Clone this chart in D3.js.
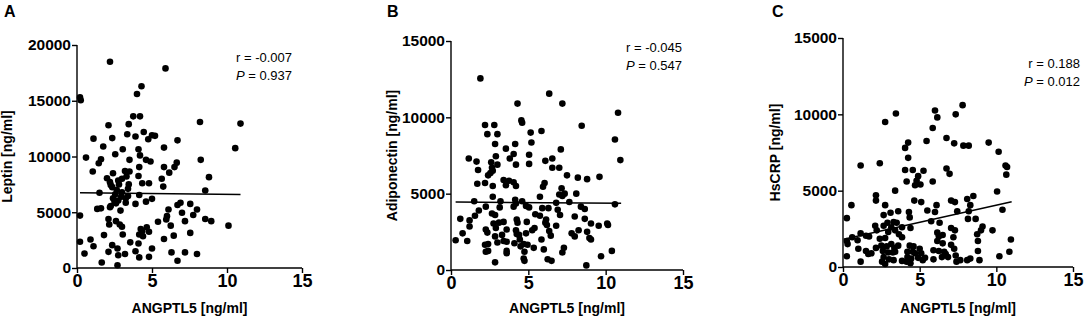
<!DOCTYPE html>
<html><head><meta charset="utf-8">
<script src="https://cdn.jsdelivr.net/npm/d3@7"></script>
<style>
html,body{margin:0;padding:0;background:#fff;}
svg{display:block;}
.tick text{font-family:"Liberation Sans",Arial,sans-serif;font-weight:bold;fill:#000;}
.xax .tick text{font-size:18px;}
.yax .tick text{font-size:15.5px;}
.title{font-family:"Liberation Sans",Arial,sans-serif;font-weight:bold;font-size:14px;fill:#000;}
.ann{font-family:"Liberation Sans",Arial,sans-serif;font-size:13px;fill:#000;}
.letter{font-family:"Liberation Sans",Arial,sans-serif;font-weight:bold;font-size:16px;fill:#000;}
</style></head>
<body>
<svg id="chart" width="1084" height="322"></svg>
<script>
// ---------- data ----------
const xTicks = [0, 5, 10, 15];
const yTicksA = [0, 5000, 10000, 15000, 20000];
const yTicksBC = [0, 5000, 10000, 15000];
const xTitle = "ANGPTL5 [ng/ml]";
const yTitles = ["Leptin [ng/ml]", "Adiponectin [ng/ml]", "HsCRP [ng/ml]"];
const letters = ["A", "B", "C"];
const rValues = ["r = -0.007", "r = -0.045", "r = 0.188"];
const pValues = ["0.937", "0.547", "0.012"];

// Panel A: ANGPTL5 vs Leptin
const xA = [2.2,5.9,4.3,4.0,0.2,0.25,3.75,4.2,2.1,3.45,8.2,10.9,4.45,1.1,2.35,3.35,3.9,4.75,5.0,5.2,6.7,1.75,3.05,4.1,5.8,10.55,
0.6,2.55,4.2,3.5,1.6,1.45,4.6,4.9,8.25,6.65,6.5,5.8,1.05,2.4,3.2,3.5,4.15,4.1,6.15,2.0,3.0,3.3,2.2,2.25,2.35,2.75,2.8,3.45,3.4,
4.35,4.8,5.65,5.75,8.8,1.5,2.65,2.55,3.0,2.95,3.25,3.4,4.15,8.55,2.4,2.5,2.25,2.75,2.6,3.25,4.6,5.0,3.9,1.35,1.6,2.2,2.9,6.7,6.9,
7.55,6.1,8.0,0.2,6.0,5.95,7.0,7.75,2.1,2.15,2.6,2.85,3.0,5.4,6.25,7.2,8.55,8.95,10.1,4.25,4.35,4.65,4.8,4.15,4.4,1.8,3.05,6.45,
7.55,5.8,0.2,0.9,1.1,2.35,3.55,4.1,5.0,2.7,0.5,2.1,3.2,2.75,3.9,4.15,4.8,6.3,7.2,8.0,1.65,2.7,6.7];
const yA = [18500,17900,16300,15600,15300,15050,13600,13600,12800,12900,13100,12950,12200,11600,11650,12000,11800,11550,11900,11850,11450,10900,10650,10650,10800,10750,
9900,10200,10100,9700,9750,9400,9700,9550,9700,9450,9050,9050,8650,8500,8700,8650,9050,8250,8550,8050,8000,8200,7700,7450,7250,7850,7500,7500,7100,
7600,7600,8000,7300,8150,6750,7000,6600,6800,6400,6250,6450,6550,6950,6250,5950,5550,6050,5800,5850,5950,6200,5750,5300,5350,5450,5150,5650,5850,
5750,5250,5250,4700,4650,4350,4950,4750,4400,3900,4200,3900,3700,4150,3800,4200,4400,4200,3800,3500,3300,3650,3250,3000,2850,2950,3000,2900,
3150,2600,2350,2550,1950,2050,2300,2200,1750,1750,1300,1450,1250,1150,1500,950,1000,1400,1400,1250,500,250,650];

// Panel B: ANGPTL5 vs Adiponectin
const xB = [1.9,6.35,4.3,7.2,10.8,4.55,4.6,2.2,2.8,8.45,2.35,3.0,5.15,5.85,2.85,4.15,5.2,10.6,3.55,7.1,1.15,4.05,2.9,3.8,5.05,6.1,6.55,10.95,
1.65,2.6,3.0,4.2,5.05,1.75,2.65,2.7,6.55,7.0,2.4,2.55,7.5,8.2,8.8,9.6,3.4,3.75,4.05,1.7,2.2,2.7,3.55,4.2,6.05,5.95,7.15,5.75,7.0,7.2,7.35,
8.1,2.7,1.5,3.2,4.15,4.2,4.6,6.8,7.65,10.6,2.25,1.8,2.65,2.85,3.15,4.05,4.85,5.05,5.9,6.3,6.9,7.05,8.4,8.65,1.55,5.45,5.75,6.15,8.0,0.6,
1.2,1.2,4.25,4.3,4.9,2.75,2.9,3.1,3.4,6.1,6.2,6.8,8.65,9.05,9.55,10.1,10.15,0.75,2.25,2.35,3.6,4.2,4.25,5.25,5.4,6.35,6.45,7.8,8.0,8.25,
8.8,8.95,9.05,0.3,1.05,2.85,3.0,3.3,3.4,3.6,4.4,4.45,4.85,5.85,4.1,4.5,4.7,4.95,2.2,2.4,2.25,2.4,3.6,3.6,4.75,5.35,6.0,7.3,7.2,10.4,9.7,
4.7,4.75,6.25,6.5,2.85,8.75];
const yB = [12550,11550,10900,10900,10300,9800,9650,9500,9500,9450,8900,8900,9000,9100,8250,8250,8350,8550,7950,7900,7300,7600,7450,7300,7550,7150,7300,7200,
7100,7050,6900,6900,6950,6550,6700,6500,6700,6700,6200,6350,6200,6050,5950,6100,5900,5850,5750,5650,5700,5500,5550,5500,5700,5450,5350,4800,4950,4850,5000,
5000,4800,4500,4500,4600,4350,4500,4400,4450,4300,4150,3900,3700,3600,4100,4150,4200,4100,4050,4050,3950,3600,4150,4000,3550,3650,3550,3300,3500,3350,
3250,2850,3300,3100,3150,3050,2750,3100,3150,3100,2950,2900,3350,3050,2900,3050,2950,2400,2650,2450,2650,2600,2350,2600,2750,2550,2250,2400,2200,2600,
2500,2100,2000,1950,1900,2200,1800,2300,1900,1850,2300,2000,2400,2000,1750,1550,1700,1650,1650,1700,1200,1250,1250,1100,1200,1450,1350,1450,1150,1250,900,
750,600,700,600,500,300];

// Panel C: ANGPTL5 vs HsCRP
const xC = [7.8,6.0,6.15,3.45,7.35,2.75,5.85,6.75,5.45,4.25,4.05,7.25,7.85,8.2,9.5,10.15,4.25,1.15,2.4,4.05,4.55,5.25,6.75,6.95,10.6,10.7,
4.9,4.8,5.05,4.7,4.15,5.85,10.65,3.4,2.15,2.15,4.65,5.1,0.55,2.75,7.05,7.3,8.1,8.5,8.3,6.1,10.05,5.5,6.0,4.3,3.6,3.1,2.65,10.4,7.45,8.2,
0.25,4.35,5.75,6.3,3.3,3.5,2.9,8.15,8.65,2.1,2.2,2.65,3.15,3.4,3.85,4.4,7.05,7.3,9.1,9.0,9.75,1.15,0.6,1.5,1.7,2.95,3.65,6.15,6.25,6.5,
8.75,0.25,0.3,0.95,2.4,2.75,3.85,6.15,6.5,7.2,8.8,10.95,2.5,2.85,3.15,3.35,2.15,3.6,4.35,4.6,5.0,5.9,7.05,7.25,1.0,1.5,1.65,1.85,2.6,2.95,
3.25,3.4,4.2,4.55,4.7,5.1,6.25,6.6,6.7,8.8,10.85,0.25,2.65,3.0,3.3,4.2,4.45,4.9,5.35,6.45,6.85,7.35,10.2,1.15,2.55,2.75,3.85,4.15,4.4,5.2,
5.9,7.4,7.65,8.1,8.3,8.9];
const yC = [10600,10250,9800,10050,10000,9500,9100,8450,8250,8150,7800,8100,7950,7950,8150,7550,7150,6650,6800,6350,6350,6300,6450,6100,6650,6550,
5950,5650,5400,5350,5600,5600,6050,5000,4700,4350,4350,4250,4050,4050,4350,4250,4450,4650,4050,4050,4950,3700,3600,3600,3650,3550,3400,3750,3650,3650,
3200,3250,3000,2900,2950,2900,2900,3150,3150,2700,2400,2700,2600,2400,2600,2550,2550,2400,2650,2400,2400,2200,1950,2050,2000,2300,2150,2250,2000,2100,
2150,1700,1500,1750,1850,1900,1950,1700,1550,1950,1700,1800,1400,1350,1500,1250,1250,1400,1400,1350,1200,1100,1450,1200,1200,1050,850,900,1050,950,
950,1000,1000,1000,900,900,1050,1000,850,1050,1000,700,650,500,450,650,550,600,600,650,650,750,700,350,350,200,400,350,250,450,
500,350,450,450,550,450];

// regression line end points [x, y]
const fitA = [[0.2, 6750], [10.9, 6600]];
const fitB = [[0.3, 4450], [11.0, 4380]];
const fitC = [[0.05, 1820], [11.0, 4280]];

// ---------- drawing ----------
const svg = d3.select("#chart");
const panels = [
  {xs: xA, ys: yA, fit: fitA, yTicks: yTicksA, yMax: 20000, xr: [77, 302], yr: [268, 45], titleX: 12, letterX: 4, annRight: 292, annY: 62},
  {xs: xB, ys: yB, fit: fitB, yTicks: yTicksBC, yMax: 15000, xr: [451, 683], yr: [270, 41], titleX: 397, letterX: 387, annRight: 682, annY: 52},
  {xs: xC, ys: yC, fit: fitC, yTicks: yTicksBC, yMax: 15000, xr: [843, 1073], yr: [267, 38], titleX: 780, letterX: 772, annRight: 1080, annY: 68}
];

panels.forEach((p, i) => {
  const x = d3.scaleLinear().domain([0, 15]).range(p.xr);
  const y = d3.scaleLinear().domain([0, p.yMax]).range(p.yr);
  const g = svg.append("g");

  const xAxis = g.append("g").attr("class", "xax").attr("transform", `translate(0,${p.yr[0]})`)
    .call(d3.axisBottom(x).tickValues(xTicks).tickSize(5).tickPadding(1).tickFormat(d3.format("d")));
  const yAxis = g.append("g").attr("class", "yax").attr("transform", `translate(${p.xr[0]},0)`)
    .call(d3.axisLeft(y).tickValues(p.yTicks).tickSize(5).tickPadding(1).tickFormat(d3.format("d")));
  [xAxis, yAxis].forEach(a => {
    a.select(".domain").attr("stroke", "#000").attr("stroke-width", 1.4);
    a.selectAll(".tick line").attr("stroke", "#000").attr("stroke-width", 1.4);
  });
  xAxis.select(".domain").attr("d", `M${p.xr[0]},0H${p.xr[1]}`);
  yAxis.select(".domain").attr("d", `M0,${p.yr[0]}V${p.yr[1]}`);

  g.selectAll("circle.dot").data(p.xs.map((v, k) => [v, p.ys[k]])).enter()
    .append("circle").attr("class", "dot")
    .attr("cx", d => x(d[0])).attr("cy", d => y(d[1])).attr("r", 3.3).attr("fill", "#000");

  g.append("path").datum(p.fit)
    .attr("d", d3.line().x(d => x(d[0])).y(d => y(d[1])))
    .attr("stroke", "#000").attr("stroke-width", 1.5).attr("fill", "none");

  // titles
  g.append("text").attr("class", "title").attr("text-anchor", "middle")
    .attr("x", (p.xr[0] + p.xr[1]) / 2).attr("y", 313).text(xTitle);
  g.append("text").attr("class", "title").attr("text-anchor", "middle")
    .attr("transform", `translate(${p.titleX},${(p.yr[0] + p.yr[1]) / 2}) rotate(-90)`).text(yTitles[i]);
  g.append("text").attr("class", "letter").attr("x", p.letterX).attr("y", 17).text(letters[i]);

  // annotations
  g.append("text").attr("class", "ann").attr("text-anchor", "end")
    .attr("x", p.annRight).attr("y", p.annY).text(rValues[i]);
  const pt = g.append("text").attr("class", "ann").attr("text-anchor", "end")
    .attr("x", p.annRight).attr("y", p.annY + 18);
  pt.append("tspan").attr("font-style", "italic").text("P");
  pt.append("tspan").text(" = " + pValues[i]);
});
</script>
</body></html>
